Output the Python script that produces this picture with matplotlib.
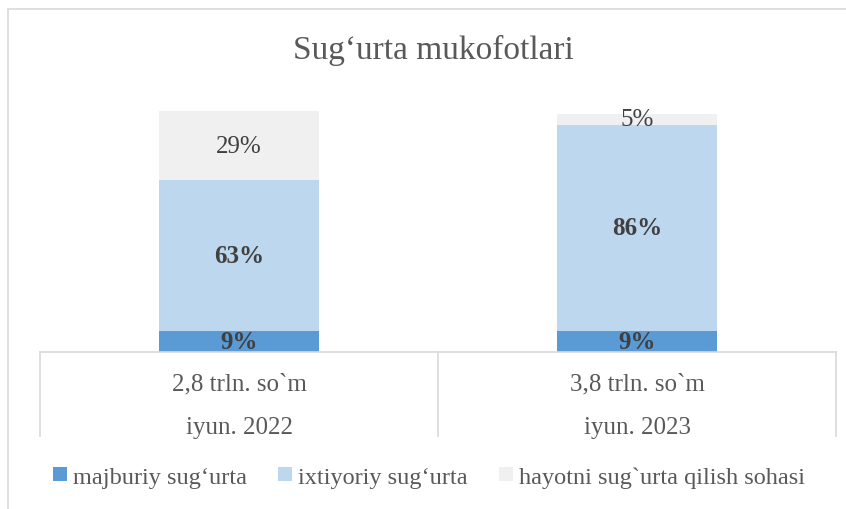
import matplotlib.pyplot as plt
from matplotlib.patches import Rectangle
from matplotlib.lines import Line2D

plt.rcParams['font.family'] = ['Liberation Serif', 'DejaVu Serif']

amounts = ["2,8 trln. so`m", "3,8 trln. so`m"]
periods = ["iyun. 2022", "iyun. 2023"]
series_names = ["majburiy sug‘urta", "ixtiyoriy sug‘urta", "hayotni sug`urta qilish sohasi"]
majburiy = [9, 9]
ixtiyoriy = [63, 86]
hayot = [29, 5]

colors = ["#5B9BD5", "#BDD7EE", "#F0F0F0"]
label_weights = ["bold", "bold", "normal"]

fig = plt.figure(figsize=(8.46, 5.10), dpi=100)
# outer chart frame
fig.patches.append(Rectangle((8 / 846, -0.1), 1.2, (500 / 510) + 0.1, transform=fig.transFigure,
                             fill=False, edgecolor="#D9D9D9", linewidth=1.2))

ax = fig.add_axes([40 / 846, 1 - 353 / 510, 796 / 846, 248 / 510])
x = list(range(len(amounts)))
bottom = [0, 0]
for vals, name, col, w in zip([majburiy, ixtiyoriy, hayot], series_names, colors, label_weights):
    bars = ax.bar(x, vals, width=0.4, bottom=bottom, color=col, label=name)
    for b, v, b0 in zip(bars, vals, bottom):
        ax.text(b.get_x() + b.get_width() / 2, b0 + v / 2, f"{v}%", ha="center", va="center",
                fontsize=18, fontweight=w, color="#404040")
    bottom = [b0 + v for b0, v in zip(bottom, vals)]

ax.set_xlim(-0.5, 1.5)
ax.set_ylim(0, 104)
for s in ax.spines.values():
    s.set_visible(False)
ax.set_xticks([])
ax.set_yticks([])

# category table-like axis
trans = ax.get_xaxis_transform()
line_kw = dict(color="#D9D9D9", linewidth=1.2, transform=trans, clip_on=False)
ax.add_line(Line2D([-0.5, 1.5], [0, 0], **line_kw))
for xv in [-0.5, 0.5, 1.5]:
    ax.add_line(Line2D([xv, xv], [0, -84 / 248], **line_kw))
for i in x:
    ax.text(i, -31 / 248, amounts[i], transform=trans, ha="center", va="center",
            fontsize=18, color="#595959")
    ax.text(i, -75 / 248, periods[i], transform=trans, ha="center", va="center",
            fontsize=18, color="#595959")

fig.text(433 / 846, 1 - 50 / 510, "Sug‘urta mukofotlari", ha="center", va="center",
         fontsize=24, color="#595959")

ax.legend(loc="center", bbox_to_anchor=(429 / 846, 1 - 478 / 510), bbox_transform=fig.transFigure,
          ncol=3, frameon=False, fontsize=17.5, handlelength=0.55, handleheight=0.55,
          handletextpad=0.25, columnspacing=1.3, labelcolor="#595959")

fig.savefig("out.png", dpi=100)
